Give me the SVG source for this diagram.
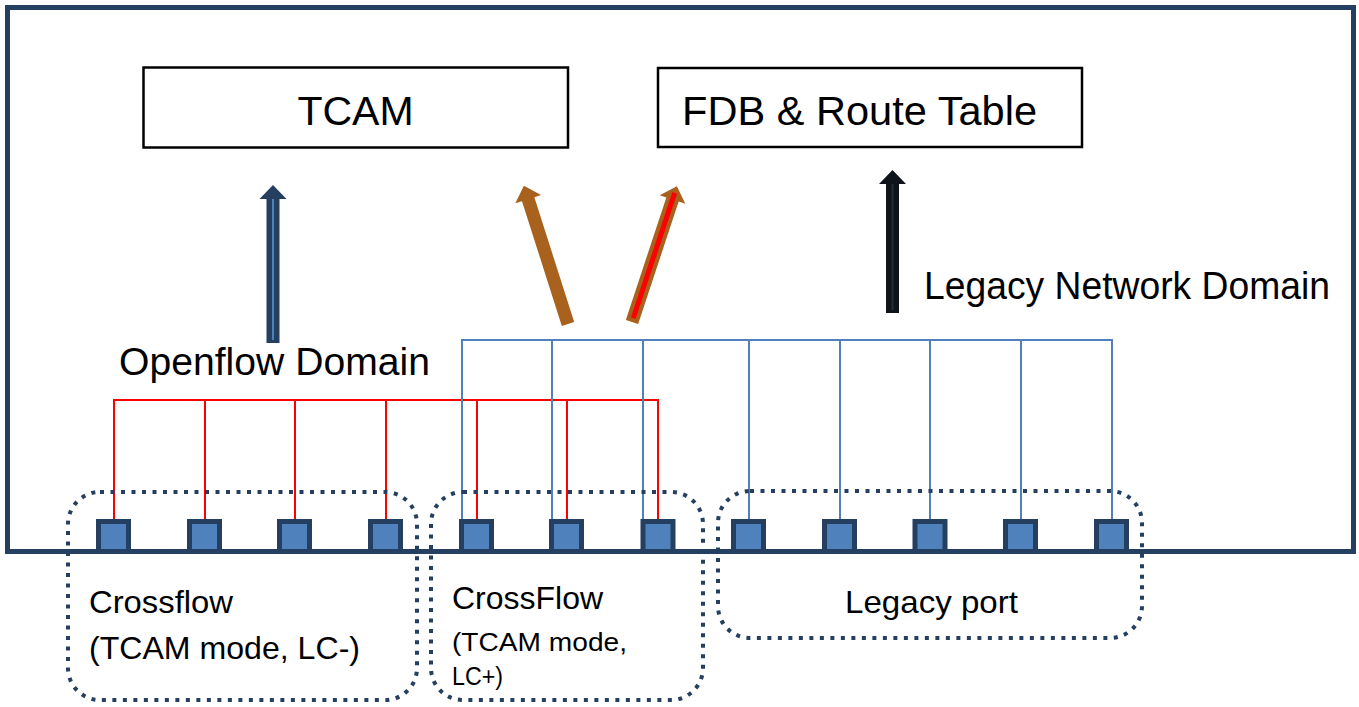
<svg xmlns="http://www.w3.org/2000/svg" width="1359" height="707" viewBox="0 0 1359 707">
<style>
text{font-family:"Liberation Sans",Arial,sans-serif;fill:#000}
.box{fill:#fff;stroke:#000;stroke-width:2.5}
.frame{fill:none;stroke:#243F60;stroke-width:5}
.group{fill:none;stroke:#243F60;stroke-width:4;stroke-dasharray:4 6.5}
.port{fill:#4F81BD;stroke:#243F60;stroke-width:5}
.red{fill:none;stroke:#FF0000;stroke-width:2}
.blue{fill:none;stroke:#4F81BD;stroke-width:2}
</style>
<defs>
<polygon id="arr158" points="-6.5,0 -6.5,-144 -13.5,-144 0,-158 13.5,-144 6.5,-144 6.5,0"/>
<polygon id="arr143" points="-6.5,0 -6.5,-129 -13.5,-129 0,-143 13.5,-129 6.5,-129 6.5,0"/>
<polygon id="arr145" points="-6.5,0 -6.5,-131 -13.5,-131 0,-145 13.5,-131 6.5,-131 6.5,0"/>
</defs>
<rect width="1359" height="707" fill="#fff"/>
<rect id="frame" class="frame" x="7.5" y="7.5" width="1346" height="544"/>

<g id="tcam"><rect class="box" x="143.5" y="67.5" width="424.5" height="80"/>
<text x="355.5" y="125" font-size="41" text-anchor="middle">TCAM</text></g>
<g id="fdb"><rect class="box" x="658" y="68" width="424" height="79"/>
<text x="682" y="125" font-size="41" textLength="355" lengthAdjust="spacingAndGlyphs">FDB &amp; Route Table</text></g>

<g id="labels">
<text x="119" y="375" font-size="38" textLength="311" lengthAdjust="spacingAndGlyphs">Openflow Domain</text>
<text x="924" y="299" font-size="38" textLength="406" lengthAdjust="spacingAndGlyphs">Legacy Network Domain</text>
</g>

<g id="arrows">
<g id="arrow-openflow" transform="translate(273,343)"><use href="#arr158" fill="#243F60"/><line x1="0" y1="-3" x2="0" y2="-144" stroke="#4F81BD" stroke-width="2"/></g>
<g id="arrow-legacy" transform="translate(892.5,313)"><use href="#arr143" fill="#0F141B"/><line x1="0" y1="-3" x2="0" y2="-129" stroke="#262C35" stroke-width="2"/></g>
<g id="arrow-brown1" transform="translate(568,324) rotate(-17.7)"><use href="#arr145" fill="#A8621E"/></g>
<g id="arrow-brown2" transform="translate(632,322) rotate(18.3)"><use href="#arr143" fill="#A8621E"/><line x1="0" y1="-4" x2="0" y2="-136" stroke="#FF0000" stroke-width="5"/></g>
</g>

<g id="connectors">
<path class="red" d="M114,521 V400 H658 V521 M205,400 V521 M295,400 V521 M386,400 V521 M477,400 V521 M567,400 V521"/>
<path class="blue" d="M462,521 V340 H1112 V521 M552,340 V521 M643,340 V521 M749,340 V521 M840,340 V521 M930,340 V521 M1021,340 V521"/>
</g>

<g id="ports">
<rect class="port" x="98.5" y="521.5" width="30" height="30"/>
<rect class="port" x="189.5" y="521.5" width="30" height="30"/>
<rect class="port" x="279.5" y="521.5" width="30" height="30"/>
<rect class="port" x="370.5" y="521.5" width="30" height="30"/>
<rect class="port" x="461.5" y="521.5" width="30" height="30"/>
<rect class="port" x="551.5" y="521.5" width="30" height="30"/>
<rect class="port" x="643" y="521.5" width="30" height="30"/>
<rect class="port" x="733.5" y="521.5" width="30" height="30"/>
<rect class="port" x="824.5" y="521.5" width="30" height="30"/>
<rect class="port" x="915" y="521.5" width="30" height="30"/>
<rect class="port" x="1005.5" y="521.5" width="30" height="30"/>
<rect class="port" x="1096.5" y="521.5" width="30" height="30"/>
</g>

<g id="group-lcminus"><rect class="group" x="68" y="492" width="349" height="208" rx="32"/>
<text x="89" y="613" font-size="32" textLength="144" lengthAdjust="spacingAndGlyphs">Crossflow</text>
<text x="89" y="659" font-size="32" textLength="271" lengthAdjust="spacingAndGlyphs">(TCAM mode, LC-)</text></g>
<g id="group-lcplus"><rect class="group" x="431" y="492" width="272" height="208" rx="32"/>
<text x="452" y="609" font-size="32" textLength="151" lengthAdjust="spacingAndGlyphs">CrossFlow</text>
<text x="452" y="651" font-size="26" textLength="175" lengthAdjust="spacingAndGlyphs">(TCAM mode,</text>
<text x="452" y="685" font-size="26" textLength="51" lengthAdjust="spacingAndGlyphs">LC+)</text></g>
<g id="group-legacy"><rect class="group" x="718" y="491" width="424" height="147" rx="32"/>
<text x="845" y="613" font-size="32" textLength="173" lengthAdjust="spacingAndGlyphs">Legacy port</text></g>
</svg>
